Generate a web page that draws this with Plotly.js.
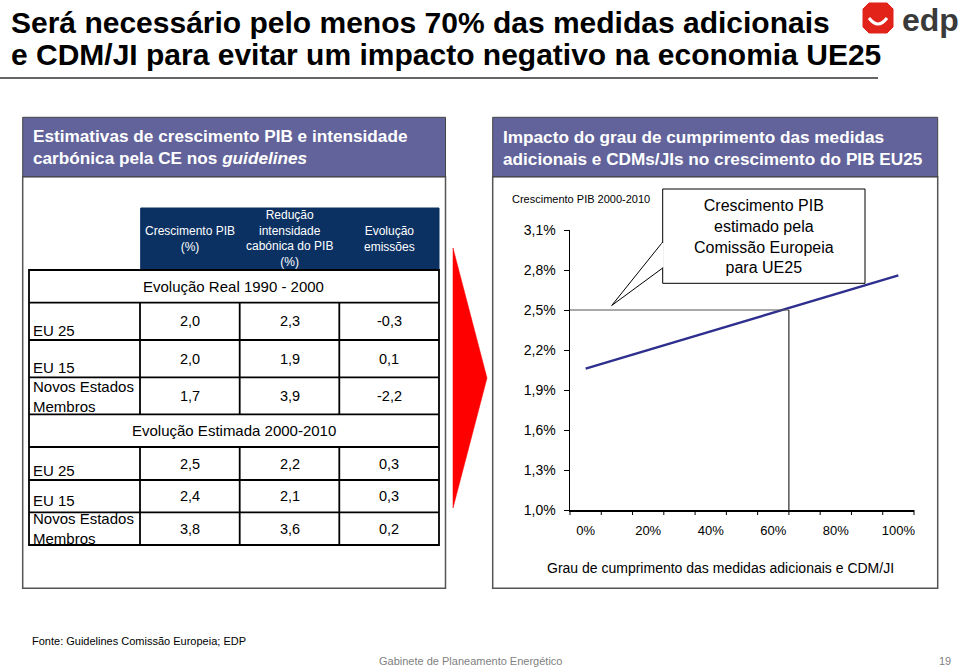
<!DOCTYPE html>
<html>
<head>
<meta charset="utf-8">
<script src="https://cdn.plot.ly/plotly-3.0.1.min.js"></script>
<style>html,body{margin:0;padding:0;background:#fff;}#chart{width:960px;height:668px;}</style>
</head>
<body>
<div id="chart"></div>
<script>
// ---------- DATA ----------
const complianceLevels = [0, 10, 20, 30, 40, 50, 60, 70, 80, 90, 100];
const gdpGrowth = [2.06, 2.13, 2.20, 2.27, 2.34, 2.41, 2.48, 2.55, 2.62, 2.69, 2.76];
const xTickVals = [0, 20, 40, 60, 80, 100];
const xTickText = ['0%', '20%', '40%', '60%', '80%', '100%'];
const xCategoryEdges = [-5, 5, 15, 25, 35, 45, 55, 65, 75, 85, 95, 105];
const yTickVals = [1.0, 1.3, 1.6, 1.9, 2.2, 2.5, 2.8, 3.1];
const yTickText = ['1,0%', '1,3%', '1,6%', '1,9%', '2,2%', '2,5%', '2,8%', '3,1%'];
const ceEstimate = 2.5;       // Crescimento PIB estimado pela CE
const requiredCompliance = 65; // grau de cumprimento correspondente

const tableHeaders = ['Crescimento PIB<br>(%)', 'Redução<br>intensidade<br>cabónica do PIB<br>(%)', 'Evolução<br>emissões'];
const rowLabels = ['EU 25', 'EU 15', 'Novos Estados<br>Membros'];
const realTitle = 'Evolução Real 1990 - 2000';
const estTitle = 'Evolução Estimada 2000-2010';
const realPIB = [2.0, 2.0, 1.7];
const realIntensidade = [2.3, 1.9, 3.9];
const realEmissoes = [-0.3, 0.1, -2.2];
const estPIB = [2.5, 2.4, 3.8];
const estIntensidade = [2.2, 2.1, 3.6];
const estEmissoes = [0.3, 0.3, 0.2];

// ---------- HELPERS ----------
const W = 960, H = 668;
const FONT = 'Liberation Sans, Arial, sans-serif';
const X = x => x / W;
const Y = y => 1 - y / H;
const fmt = v => v.toFixed(1).replace('.', ',');
const shapes = [];
const ann = [];
function rect(x0, y0, x1, y1, fill, lc, lw, layer) {
  shapes.push({type: 'rect', xref: 'paper', yref: 'paper', x0: X(x0), x1: X(x1), y0: Y(y1), y1: Y(y0),
    layer: layer || 'above',
    fillcolor: fill || 'rgba(0,0,0,0)', line: {color: lc || 'rgba(0,0,0,0)', width: lw || 0}});
}
function seg(x0, y0, x1, y1, color, width) {
  shapes.push({type: 'line', xref: 'paper', yref: 'paper', x0: X(x0), x1: X(x1), y0: Y(y0), y1: Y(y1),
    line: {color: color, width: width}});
}
function path(pts, fill, lc, lw, closed) {
  let d = pts.map((p, i) => (i ? 'L' : 'M') + X(p[0]).toFixed(5) + ',' + Y(p[1]).toFixed(5)).join(' ');
  if (closed) d += ' Z';
  shapes.push({type: 'path', xref: 'paper', yref: 'paper', path: d, fillcolor: fill || 'rgba(0,0,0,0)',
    line: {color: lc || 'rgba(0,0,0,0)', width: lw || 0}});
}
function txt(x, y, s, size, opt) {
  opt = opt || {};
  ann.push({xref: 'paper', yref: 'paper', x: X(x), y: Y(y), text: s, showarrow: false,
    xanchor: opt.xa || 'center', yanchor: opt.ya || 'middle', align: opt.align || 'center',
    font: {family: FONT, size: size, color: opt.color || '#000'}});
}

// ---------- PANELS (below plot) ----------
const HEADER = '#62639B';
rect(22.7, 176.7, 445.5, 588.3, '#fff', '#555', 1.5, 'below');
rect(22.7, 117.3, 445.5, 176.7, HEADER, '#444', 1, 'below');
rect(492.7, 176.7, 937.7, 588.3, '#fff', '#555', 1.5, 'below');
rect(492.7, 117.3, 937.7, 176.7, HEADER, '#444', 1, 'below');

// ---------- TITLE ----------
txt(9, 23, '<b>Será necessário pelo menos 70% das medidas adicionais</b>', 30, {xa: 'left'});
txt(9, 54, '<b>e CDM/JI para evitar um impacto negativo na economia UE25</b>', 30, {xa: 'left'});
seg(0, 78, 878, 78, '#333', 1.5);

// logo
path([[863,9],[863,27],[869,33],[887,33],[893,27],[893,9],[887,3],[869,3]], '#E2231A', '#E2231A', 1, true);
shapes.push({type: 'path', xref: 'paper', yref: 'paper',
  path: 'M' + X(869) + ',' + Y(18) + ' Q' + X(878) + ',' + Y(30) + ' ' + X(887) + ',' + Y(18),
  line: {color: '#fff', width: 3}});
txt(900, 20, '<b>edp</b>', 32, {xa: 'left', color: '#3a3a3a'});

// header texts
txt(31, 136, '<b>Estimativas de crescimento PIB e intensidade</b>', 17.2, {xa: 'left', color: '#fff'});
txt(31, 158, '<b>carbónica pela CE nos <i>guidelines</i></b>', 17.2, {xa: 'left', color: '#fff'});
txt(501, 137, '<b>Impacto do grau de cumprimento das medidas</b>', 17.2, {xa: 'left', color: '#fff'});
txt(501, 159, '<b>adicionais e CDMs/JIs no crescimento do PIB EU25</b>', 17.2, {xa: 'left', color: '#fff'});

// red arrow
path([[453,248],[487,378],[453,508]], '#FF0000', '#FF0000', 0.5, true);

// ---------- TABLE ----------
const colX = [29, 140, 239.7, 339.3, 439];
rect(140.7, 208, 439, 270, '#0B3163', '#0B3163', 1);
tableHeaders.forEach((h, i) => txt((colX[i+1] + colX[i+2]) / 2, 239, h, 12, {color: '#fff'}));

const realRows = [302.7, 340, 377.3, 414.3];
const estRows = [447, 480, 512.3, 545];
rect(29, 270, 439, 545, 'rgba(0,0,0,0)', '#000', 1.8);
[302.7, 340, 377.3, 414.3, 447, 480, 512.3].forEach(y => seg(29, y, 439, y, '#000', 1.8));
[140, 239.7, 339.3].forEach(x => { seg(x, 302.7, x, 414.3, '#000', 1.8); seg(x, 447, x, 545, '#000', 1.8); });
txt(233.5, 286.5, realTitle, 15);
txt(234, 430.5, estTitle, 15);

function fillBlock(rows, cols, est) {
  for (let r = 0; r < 3; r++) {
    const yc = (rows[r] + rows[r+1]) / 2;
    cols.forEach((arr, c) => txt((colX[c+1] + colX[c+2]) / 2, yc, fmt(arr[r]), 14.5));
    let dy = r === 2 ? 3 : 1;
    if (est && r === 1) dy = -1;
    if (est && r === 2) dy = 3.5;
    txt(31, rows[r+1] + dy, rowLabels[r], 15, {xa: 'left', ya: 'bottom', align: 'left'});
  }
}
fillBlock(realRows, [realPIB, realIntensidade, realEmissoes], false);
fillBlock(estRows, [estPIB, estIntensidade, estEmissoes], true);

// ---------- CHART TEXT ----------
txt(510, 199, 'Crescimento PIB 2000-2010', 11, {xa: 'left'});
txt(720, 568, 'Grau de cumprimento das medidas adicionais e CDM/JI', 14);

// callout
rect(662.7, 189, 865, 283.3, '#fff', '#000', 1);
path([[662.7,242],[611.7,305.5],[662.7,268]], '#fff', '#000', 1, false);
seg(662.7, 243, 662.7, 267, '#fff', 2);
txt(764, 236.5, 'Crescimento PIB<br>estimado pela<br>Comissão Europeia<br>para UE25', 16);

// reference lines (data coords)
shapes.push({type: 'line', xref: 'x', yref: 'y', x0: -5, x1: requiredCompliance, y0: ceEstimate, y1: ceEstimate,
  line: {color: '#555', width: 1}});
shapes.push({type: 'line', xref: 'x', yref: 'y', x0: requiredCompliance, x1: requiredCompliance, y0: 1.0, y1: ceEstimate,
  line: {color: '#000', width: 1}});

// ---------- PLOT ----------
const xDomain = [570 / W, 914 / W];
const xRange = [-5, 105];
// category-edge tick marks below the x axis line, mapped from data through the axis domain/range
const xToPaper = v => xDomain[0] + (v - xRange[0]) / (xRange[1] - xRange[0]) * (xDomain[1] - xDomain[0]);
xCategoryEdges.forEach(e => shapes.push({type: 'line', xref: 'paper', yref: 'paper',
  x0: xToPaper(e), x1: xToPaper(e), y0: Y(510), y1: Y(515), line: {color: '#000', width: 1}}));

// ---------- FOOTER ----------
txt(30, 641, 'Fonte: Guidelines Comissão Europeia; EDP', 11, {xa: 'left'});
txt(470, 661, 'Gabinete de Planeamento Energético', 11, {color: '#7f7f7f'});
txt(945, 661, '19', 11, {color: '#7f7f7f'});

const trace = {x: complianceLevels, y: gdpGrowth, type: 'scatter', mode: 'lines',
  line: {color: '#2E2E8E', width: 2.5}, hoverinfo: 'skip', showlegend: false};

const layout = {
  width: W, height: H, margin: {l: 0, r: 0, t: 0, b: 0},
  paper_bgcolor: '#fff', plot_bgcolor: 'rgba(0,0,0,0)', showlegend: false,
  font: {family: FONT, color: '#000'},
  xaxis: {domain: xDomain, range: xRange, showgrid: false, zeroline: false,
    showline: true, linecolor: '#000', linewidth: 1.5,
    tickmode: 'array', tickvals: xTickVals, ticktext: xTickText, ticks: '',
    tickfont: {family: FONT, size: 13, color: '#000'}, ticklabelstandoff: 8},
  yaxis: {domain: [1 - 510 / H, 1 - 230 / H], range: [1.0, 3.1], showgrid: false, zeroline: false,
    showline: true, linecolor: '#000', linewidth: 1.5,
    tickmode: 'array', tickvals: yTickVals, ticktext: yTickText, ticks: 'outside', ticklen: 5, tickwidth: 1, tickcolor: '#000',
    tickfont: {family: FONT, size: 14, color: '#000'}, ticklabelstandoff: 5},
  shapes: shapes, annotations: ann
};
Plotly.newPlot('chart', [trace], layout, {staticPlot: true, displayModeBar: false});
</script>
</body>
</html>
